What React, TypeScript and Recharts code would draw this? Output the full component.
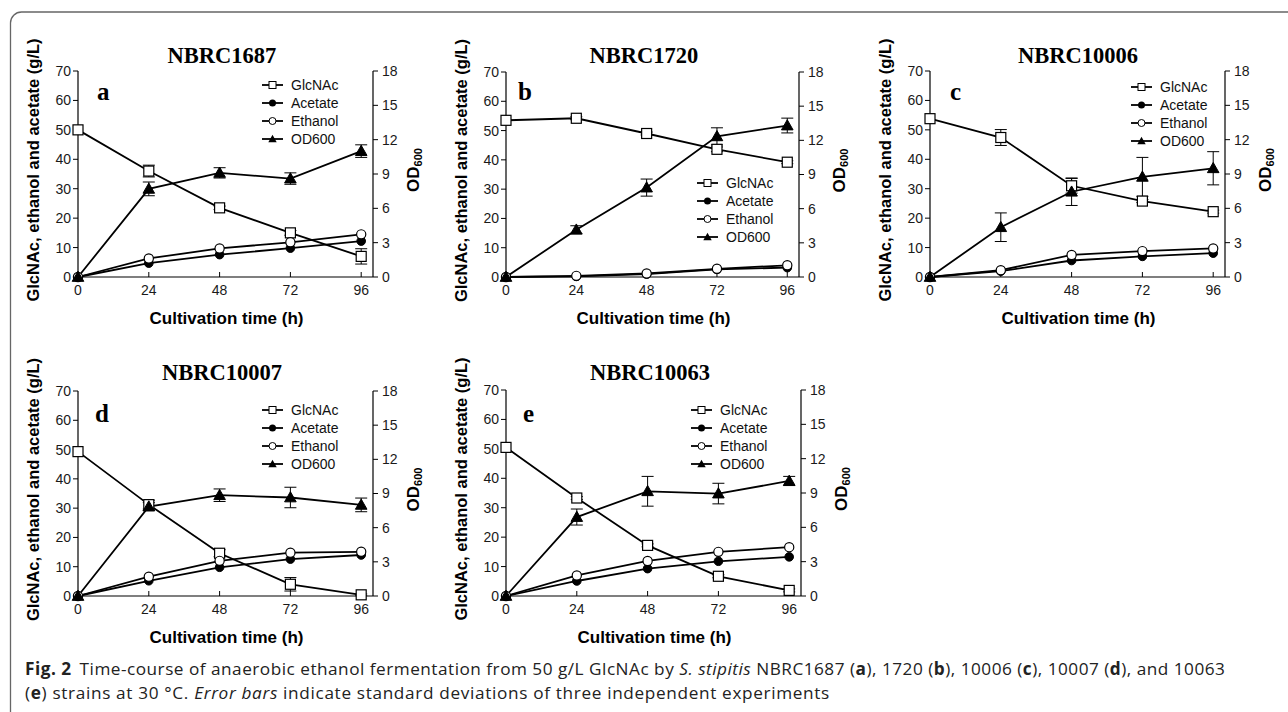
import React from 'react';
import { ComposedChart, Line, XAxis, YAxis, ErrorBar } from 'recharts';

// ---------- data ----------
const HOURS = [0, 24, 48, 72, 96];
const X_TICKS = [0, 24, 48, 72, 96];
const LEFT_TICKS = [0, 10, 20, 30, 40, 50, 60, 70];
const RIGHT_TICKS = [0, 3, 6, 9, 12, 15, 18];

// Panel a: NBRC1687
const A_GLCNAC = [50, 36, 23.5, 15, 7];
const A_GLCNAC_ERR = [0, 2, 0.6, 0.8, 2.6];
const A_ACETATE = [0, 4.7, 7.6, 9.8, 12.2];
const A_ETHANOL = [0, 6.3, 9.7, 11.8, 14.5];
const A_OD = [0, 7.7, 9.1, 8.6, 11.0];
const A_OD_ERR = [0, 0.6, 0.45, 0.5, 0.55];

// Panel b: NBRC1720
const B_GLCNAC = [53.5, 54.2, 49, 43.6, 39.2];
const B_GLCNAC_ERR = [0, 0.5, 0.5, 0.8, 0.5];
const B_ACETATE = [0, 0.2, 1.0, 2.6, 3.2];
const B_ETHANOL = [0, 0.4, 1.2, 2.8, 4.0];
const B_OD = [0, 4.15, 7.85, 12.35, 13.3];
const B_OD_ERR = [0, 0.35, 0.75, 0.75, 0.65];

// Panel c: NBRC10006
const C_GLCNAC = [53.8, 47.4, 31, 25.8, 22.2];
const C_GLCNAC_ERR = [0, 2.7, 2.5, 0.5, 0.5];
const C_ACETATE = [0, 2.0, 5.6, 7.0, 8.1];
const C_ETHANOL = [0, 2.3, 7.5, 8.8, 9.7];
const C_OD = [0, 4.35, 7.45, 8.75, 9.5];
const C_OD_ERR = [0, 1.25, 1.2, 1.7, 1.45];

// Panel d: NBRC10007
const D_GLCNAC = [49.3, 31.2, 14.6, 4.0, 0.4];
const D_GLCNAC_ERR = [0, 1.5, 1.2, 2.3, 0.3];
const D_ACETATE = [0, 5.2, 9.8, 12.6, 14.0];
const D_ETHANOL = [0, 6.6, 12.0, 14.8, 15.1];
const D_OD = [0, 7.85, 8.85, 8.65, 8.0];
const D_OD_ERR = [0, 0.35, 0.55, 0.9, 0.6];

// Panel e: NBRC10063
const E_GLCNAC = [50.5, 33.3, 17.2, 6.7, 1.9];
const E_GLCNAC_ERR = [0, 0.5, 0.5, 0.5, 0.5];
const E_ACETATE = [0, 5.1, 9.3, 11.8, 13.3];
const E_ETHANOL = [0, 7.0, 11.9, 15.0, 16.6];
const E_OD = [0, 6.9, 9.15, 8.95, 10.05];
const E_OD_ERR = [0, 0.7, 1.3, 0.9, 0.4];

const LEGEND_LABELS = ['GlcNAc', 'Acetate', 'Ethanol', 'OD600'];
const X_TITLE = 'Cultivation time (h)';
const Y_TITLE = 'GlcNAc, ethanol and acetate (g/L)';

function buildRows(glc: number[], glcErr: number[], ace: number[], eth: number[], od: number[], odErr: number[]) {
  return HOURS.map((h, i) => ({
    h,
    glc: glc[i],
    glcErr: glcErr[i],
    ace: ace[i],
    eth: eth[i],
    od: od[i],
    odErr: odErr[i],
  }));
}

// ---------- layout ----------
type PanelCfg = {
  title: string;
  letter: string;
  rows: any[];
  left: number;
  top: number;
  w: number;
  h: number;
  titleX: number;
  titleY: number;
  letterDx: number;
  letterDy: number;
  legX: number;
  legY: number;
};

const PANELS: PanelCfg[] = [
  { title: 'NBRC1687', letter: 'a', rows: buildRows(A_GLCNAC, A_GLCNAC_ERR, A_ACETATE, A_ETHANOL, A_OD, A_OD_ERR),
    left: 78, top: 71, w: 295, h: 206, titleX: 222, titleY: 63, letterDx: 19, letterDy: 29, legX: 262, legY: 85 },
  { title: 'NBRC1720', letter: 'b', rows: buildRows(B_GLCNAC, B_GLCNAC_ERR, B_ACETATE, B_ETHANOL, B_OD, B_OD_ERR),
    left: 506, top: 72, w: 293, h: 205, titleX: 644, titleY: 63, letterDx: 12, letterDy: 28, legX: 697, legY: 183 },
  { title: 'NBRC10006', letter: 'c', rows: buildRows(C_GLCNAC, C_GLCNAC_ERR, C_ACETATE, C_ETHANOL, C_OD, C_OD_ERR),
    left: 930, top: 71, w: 295, h: 206, titleX: 1078, titleY: 63, letterDx: 20, letterDy: 29, legX: 1131, legY: 87 },
  { title: 'NBRC10007', letter: 'd', rows: buildRows(D_GLCNAC, D_GLCNAC_ERR, D_ACETATE, D_ETHANOL, D_OD, D_OD_ERR),
    left: 78, top: 391, w: 295, h: 205, titleX: 222, titleY: 380, letterDx: 17, letterDy: 31, legX: 262, legY: 410 },
  { title: 'NBRC10063', letter: 'e', rows: buildRows(E_GLCNAC, E_GLCNAC_ERR, E_ACETATE, E_ETHANOL, E_OD, E_OD_ERR),
    left: 506, top: 390, w: 295, h: 206, titleX: 650, titleY: 380, letterDx: 17, letterDy: 32, legX: 691, legY: 410 },
];

const SANS = '"Liberation Sans", Arial, sans-serif';
const SERIF = '"Liberation Serif", "Times New Roman", serif';
const CAPTION_FONT = '"Open Sans", "Noto Sans", sans-serif';

const ML = 72; // margin-left + left axis width
const MT = 10;
const MR = 62;
const MB = 60;

// ---------- marker shapes ----------
const SquareDot = (props: any) => {
  const { cx, cy, index } = props;
  if (cx == null || cy == null) return <g key={`sq-${index}`} />;
  return <rect key={`sq-${index}`} x={cx - 5} y={cy - 5} width={10} height={10} fill="#fff" stroke="#000" strokeWidth={1.2} />;
};
const TriDot = (props: any) => {
  const { cx, cy, index } = props;
  if (cx == null || cy == null) return <g key={`tr-${index}`} />;
  const s = 5.8;
  return (
    <polygon
      key={`tr-${index}`}
      points={`${cx},${cy - s} ${cx - s},${cy + s * 0.75} ${cx + s},${cy + s * 0.75}`}
      fill="#000"
      stroke="#000"
      strokeWidth={1}
    />
  );
};

const tickStyle = { fontFamily: SANS, fontSize: 14, fill: '#1a1a1a' };

function Panel({ p }: { p: PanelCfg }) {
  const width = ML + p.w + MR;
  const height = MT + p.h + MB;
  return (
    <div style={{ position: 'absolute', left: p.left - ML, top: p.top - MT, width, height }}>
      <ComposedChart width={width} height={height} data={p.rows} margin={{ top: MT, right: 12, left: 12, bottom: 10 }}>
        <XAxis
          dataKey="h"
          type="number"
          domain={[0, 100]}
          ticks={X_TICKS}
          xAxisId="x"
          height={50}
          tickSize={-5}
          tickMargin={13}
          tick={tickStyle}
          axisLine={{ stroke: '#000', strokeWidth: 1.2 }}
          tickLine={{ stroke: '#000', strokeWidth: 1 }}
          interval={0}
        />
        <YAxis
          yAxisId="left"
          orientation="left"
          type="number"
          domain={[0, 70]}
          ticks={LEFT_TICKS}
          width={60}
          tickSize={5}
          tickMargin={2}
          tick={tickStyle}
          axisLine={{ stroke: '#000', strokeWidth: 1.2 }}
          tickLine={{ stroke: '#000', strokeWidth: 1 }}
          interval={0}
        />
        <YAxis
          yAxisId="right"
          orientation="right"
          type="number"
          domain={[0, 18]}
          ticks={RIGHT_TICKS}
          width={50}
          tickSize={5}
          tickMargin={4}
          tick={tickStyle}
          axisLine={{ stroke: '#000', strokeWidth: 1.2 }}
          tickLine={{ stroke: '#000', strokeWidth: 1 }}
          interval={0}
        />
        {/* top border of plot box */}
        <XAxis xAxisId="top" orientation="top" type="number" domain={[0, 100]} dataKey="h" height={0} tick={false} tickLine={false} axisLine={{ stroke: '#000', strokeWidth: 1.2 }} />
        <Line
          xAxisId="x"
          yAxisId="left"
          dataKey="glc"
          stroke="#000"
          strokeWidth={1.8}
          isAnimationActive={false}
          dot={SquareDot}
          activeDot={false}
        >
          <ErrorBar dataKey="glcErr" direction="y" width={6} stroke="#000" strokeWidth={1} />
        </Line>
        <Line
          xAxisId="x"
          yAxisId="left"
          dataKey="ace"
          stroke="#000"
          strokeWidth={1.8}
          isAnimationActive={false}
          dot={{ r: 4.3, fill: '#000', stroke: '#000', strokeWidth: 1 }}
          activeDot={false}
        />
        <Line
          xAxisId="x"
          yAxisId="left"
          dataKey="eth"
          stroke="#000"
          strokeWidth={1.8}
          isAnimationActive={false}
          dot={{ r: 4.6, fill: '#fff', stroke: '#000', strokeWidth: 1.2 }}
          activeDot={false}
        />
        <Line
          xAxisId="x"
          yAxisId="right"
          dataKey="od"
          stroke="#000"
          strokeWidth={1.8}
          isAnimationActive={false}
          dot={TriDot}
          activeDot={false}
        >
          <ErrorBar dataKey="odErr" direction="y" width={6} stroke="#000" strokeWidth={1} />
        </Line>
      </ComposedChart>
    </div>
  );
}

function LegendMarker({ i, cx, cy }: { i: number; cx: number; cy: number }) {
  if (i === 0) return <rect x={cx - 3.5} y={cy - 3.5} width={7} height={7} fill="#fff" stroke="#000" strokeWidth={1} />;
  if (i === 1) return <circle cx={cx} cy={cy} r={3.5} fill="#000" />;
  if (i === 2) return <circle cx={cx} cy={cy} r={3.5} fill="#fff" stroke="#000" strokeWidth={1} />;
  const s = 4.2;
  return <polygon points={`${cx},${cy - s} ${cx - s},${cy + s * 0.75} ${cx + s},${cy + s * 0.75}`} fill="#000" />;
}

function Overlay() {
  return (
    <svg width={1288} height={712} style={{ position: 'absolute', left: 0, top: 0 }}>
      <rect x={10.5} y={12} width={1300} height={800} rx={11} ry={11} fill="none" stroke="#666" strokeWidth={1.3} />
      {PANELS.map((p, k) => {
        const cx = p.left + p.w / 2;
        const cy = p.top + p.h / 2;
        const rx = p.left + p.w;
        return (
          <g key={k}>
            <text x={p.titleX} y={p.titleY} textAnchor="middle" fontFamily={SERIF} fontWeight="bold" fontSize={22.5} fill="#000">
              {p.title}
            </text>
            <text x={p.left + p.letterDx} y={p.top + p.letterDy} fontFamily={SERIF} fontWeight="bold" fontSize={25} fill="#000">
              {p.letter}
            </text>
            <text x={cx + 1} y={p.top + p.h + 47} textAnchor="middle" fontFamily={SANS} fontWeight="bold" fontSize={17} fill="#000">
              {X_TITLE}
            </text>
            <text
              transform={`translate(${p.left - 45}, ${cy - 4}) rotate(-90)`}
              textAnchor="middle"
              dominantBaseline="central"
              fontFamily={SANS}
              fontWeight="bold"
              fontSize={16.5}
              fill="#000"
            >
              {Y_TITLE}
            </text>
            <text
              transform={`translate(${rx + 40}, ${cy - 4}) rotate(-90)`}
              textAnchor="middle"
              dominantBaseline="central"
              fontFamily={SANS}
              fontWeight="bold"
              fontSize={17}
              fill="#000"
            >
              OD
              <tspan fontSize={11} dy={5}>600</tspan>
            </text>
            {LEGEND_LABELS.map((lab, i) => {
              const y = p.legY + i * 18;
              return (
                <g key={i}>
                  <line x1={p.legX} x2={p.legX + 21} y1={y} y2={y} stroke="#000" strokeWidth={1.8} />
                  <LegendMarker i={i} cx={p.legX + 10.5} cy={y} />
                  <text x={p.legX + 29} y={y} dominantBaseline="central" fontFamily={SANS} fontSize={14} fill="#111">
                    {lab}
                  </text>
                </g>
              );
            })}
          </g>
        );
      })}
    </svg>
  );
}

const captionLine: React.CSSProperties = {
  position: 'absolute',
  left: 25,
  fontFamily: CAPTION_FONT,
  fontSize: 17.2,
  color: '#222',
  whiteSpace: 'nowrap',
  lineHeight: '23.4px',
};

export default function App() {
  return (
    <div style={{ position: 'absolute', left: 0, top: 0, width: 1288, height: 712, background: '#fff', overflow: 'hidden' }}>
      <Overlay />
      {PANELS.map((p, k) => (
        <Panel key={k} p={p} />
      ))}
      <div style={{ ...captionLine, top: 656.5, letterSpacing: '0.5px' }}>
        <b>Fig. 2</b>
        <span style={{ marginLeft: 8 }}>Time-course of anaerobic ethanol fermentation from 50 g/L GlcNAc by </span>
        <i>S. stipitis</i> NBRC1687 (<b>a</b>), 1720 (<b>b</b>), 10006 (<b>c</b>), 10007 (<b>d</b>), and 10063
      </div>
      <div style={{ ...captionLine, top: 680.5, letterSpacing: '0.66px' }}>
        (<b>e</b>) strains at 30 °C. <i>Error bars</i> indicate standard deviations of three independent experiments
      </div>
    </div>
  );
}
